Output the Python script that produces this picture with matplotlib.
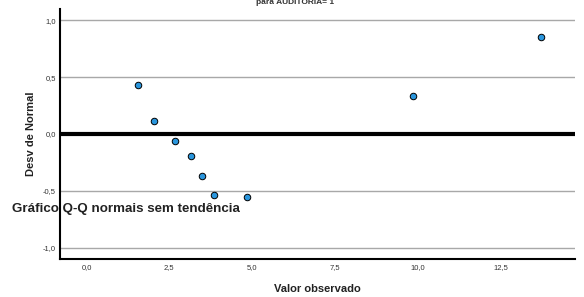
import matplotlib
matplotlib.use("Agg")
import matplotlib.pyplot as plt
from matplotlib.ticker import FuncFormatter

plt.rcParams["font.family"] = ["Liberation Sans", "DejaVu Sans"]

# observed values and deviation from normal
valor_observado = [1.57, 2.05, 2.66, 3.17, 3.50, 3.84, 4.86, 9.85, 13.72]
desv_normal = [0.43, 0.11, -0.06, -0.19, -0.37, -0.54, -0.555, 0.335, 0.855]

x_ticks = [0.0, 2.5, 5.0, 7.5, 10.0, 12.5]
y_ticks = [-1.0, -0.5, 0.0, 0.5, 1.0]


def virgula(v, pos):
    return f"{v:.1f}".replace(".", ",")


fig = plt.figure(figsize=(5.84, 2.97), dpi=100)
ax = fig.add_axes([0.1027, 0.128, 0.882, 0.842])

for yv in y_ticks:
    ax.axhline(yv, color="#a8a8a8", lw=1.0, zorder=1)
ax.axhline(0, color="black", lw=3.0, zorder=2)

ax.scatter(valor_observado, desv_normal, s=22, color="#2a96dd",
           edgecolor="black", linewidth=0.7, zorder=3)

ax.set_xlim(-0.8, 14.75)
ax.set_ylim(-1.1, 1.1)
ax.set_xticks(x_ticks)
ax.set_yticks(y_ticks)
ax.xaxis.set_major_formatter(FuncFormatter(virgula))
ax.yaxis.set_major_formatter(FuncFormatter(virgula))
ax.tick_params(length=0, labelsize=5.5, labelcolor="#333333")
ax.tick_params(axis="x", pad=4)
ax.tick_params(axis="y", pad=3)

ax.spines["top"].set_visible(False)
ax.spines["right"].set_visible(False)
ax.spines["left"].set_linewidth(1.5)
ax.spines["bottom"].set_linewidth(1.5)

ax.set_xlabel("Valor observado", fontsize=8, fontweight="bold",
              color="#222222", labelpad=9)
ax.set_ylabel("Desv de Normal", fontsize=8, fontweight="bold",
              color="#222222", labelpad=5)

fig.text(0.505, 0.993, "para AUDITORIA= 1", fontsize=6, fontweight="bold",
         color="#333333", ha="center", va="center")
fig.text(0.02, 0.296, "Gráfico Q-Q normais sem tendência", fontsize=9.6,
         fontweight="bold", color="#222222", ha="left", va="center")

fig.savefig("out.png", dpi=100)
